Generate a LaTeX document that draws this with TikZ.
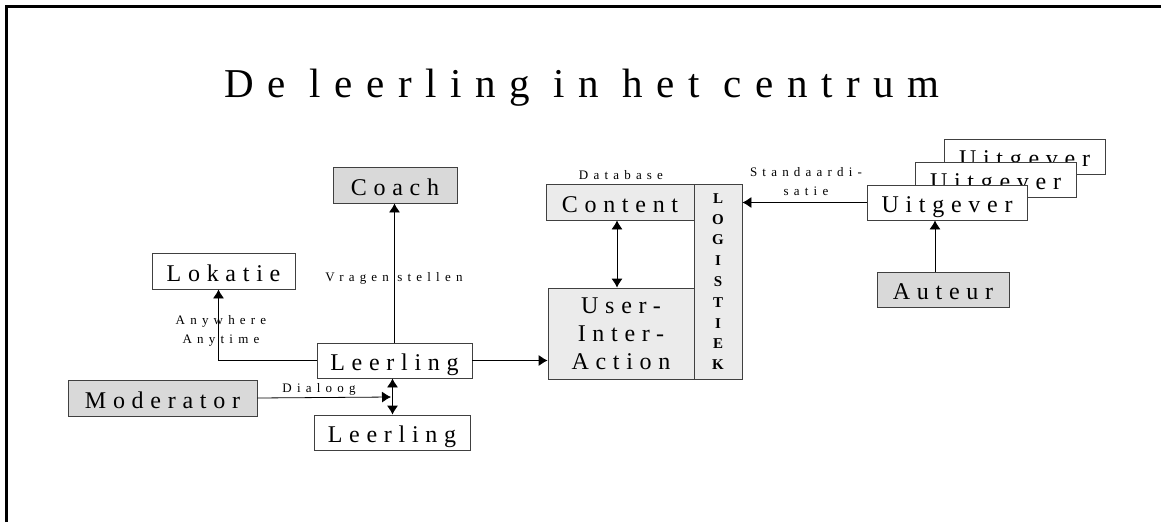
\documentclass[tikz,border=0pt]{standalone}
\usepackage{fontspec}
\setmainfont{Liberation Serif}
\newfontfamily\boxfont[LetterSpace=28]{Liberation Serif}
\newfontfamily\smallfont[LetterSpace=40]{Liberation Serif}
\newfontfamily\titlefont[LetterSpace=33]{Liberation Serif}
\usetikzlibrary{shapes,arrows,arrows.meta}
\definecolor{darkfill}{gray}{0.85}
\definecolor{lightfill}{gray}{0.92}
\tikzstyle{block} = [rectangle, draw=black!75, line width=0.8pt, fill=white,
inner sep=0pt, text height=21pt, text depth=1pt,
font=\boxfont\fontsize{24}{28}\selectfont]
\tikzstyle{line} = [draw, line width=0.8pt, -{Latex[length=9pt, width=11pt]}]
\tikzstyle{twoway} = [draw, line width=0.8pt,
{Latex[length=9pt, width=11pt]}-{Latex[length=9pt, width=11pt]}]
\tikzstyle{smalltext} = [inner sep=0pt, align=center,
font=\smallfont\fontsize{13}{19}\selectfont]

\begin{document}
\begin{tikzpicture}[x=1pt, y=-1pt]
\useasboundingbox (0,0) rectangle (1161,522);
% frame
\draw [line width=3pt] (6,522) -- (6,6) -- (1161,6);
% title
\node [anchor=base, font=\titlefont\fontsize{41}{48}\selectfont] (title) at (582,97) {De leerling in het centrum};
% Place nodes
\node [block, fill=darkfill, minimum width=124, minimum height=36] (coach) at (395,185) {Coach};
\node [block, minimum width=143, minimum height=36] (lokatie) at (223.5,271) {Lokatie};
\node [block, minimum width=155, minimum height=35] (leerling) at (394.5,360.5) {Leerling};
\node [block, fill=darkfill, minimum width=189, minimum height=36] (moderator) at (162.5,398) {Moderator};
\node [block, minimum width=156, minimum height=35] (leerling2) at (392,432.5) {Leerling};
\node [block, fill=lightfill, minimum width=148, minimum height=36] (content) at (620,202) {Content};
\node [block, fill=lightfill, minimum width=146, minimum height=91, align=center,
text height=, text depth=] (uia) at (621,333.5) {User-\\Inter-\\Action};
\node [block, fill=lightfill, minimum width=48, minimum height=195, align=center,
text height=, text depth=,
font=\bfseries\fontsize{15}{20.8}\selectfont] (logistiek) at (718,281.5) {L\\O\\G\\I\\S\\T\\I\\E\\K};
\node [block, minimum width=161, minimum height=35] (uitgever3) at (1024.5,156.5) {Uitgever};
\node [block, minimum width=161, minimum height=35] (uitgever2) at (995.5,179.5) {Uitgever};
\node [block, minimum width=160, minimum height=35] (uitgever) at (947,202.5) {Uitgever};
\node [block, fill=darkfill, minimum width=132, minimum height=35] (auteur) at (943,289.5) {Auteur};
% connectors
\coordinate (split) at (391,397);
\path [line] (leerling.north) -- (leerling.north |- coach.south);
\path [line] (leerling.west) -| ([xshift=-5]lokatie.south);
\path [line] (leerling.east) -- (leerling.east -| uia.west);
\path [twoway] ([xshift=-2]leerling.south) -- ([xshift=-2]leerling.south |- leerling2.north);
\path [line] (moderator.east) -- (split);
\path [twoway] ([xshift=-3]content.south) -- ([xshift=-3]content.south |- uia.north);
\path [line] (uitgever.west) -- (uitgever.west -| logistiek.east);
\path [line] ([xshift=-8]auteur.north) -- ([xshift=-8]auteur.north |- uitgever.south);
% labels
\node [smalltext] (vragen) at (394,278) {Vragen stellen};
\node [smalltext] (anywhere) at (221,331) {Anywhere\\Anytime};
\node [smalltext] (dialoog) at (319,389) {Dialoog};
\node [smalltext] (database) at (621,175) {Database};
\node [smalltext] (standaard) at (806,182) {Standaardi-\\satie};
\end{tikzpicture}
\end{document}
